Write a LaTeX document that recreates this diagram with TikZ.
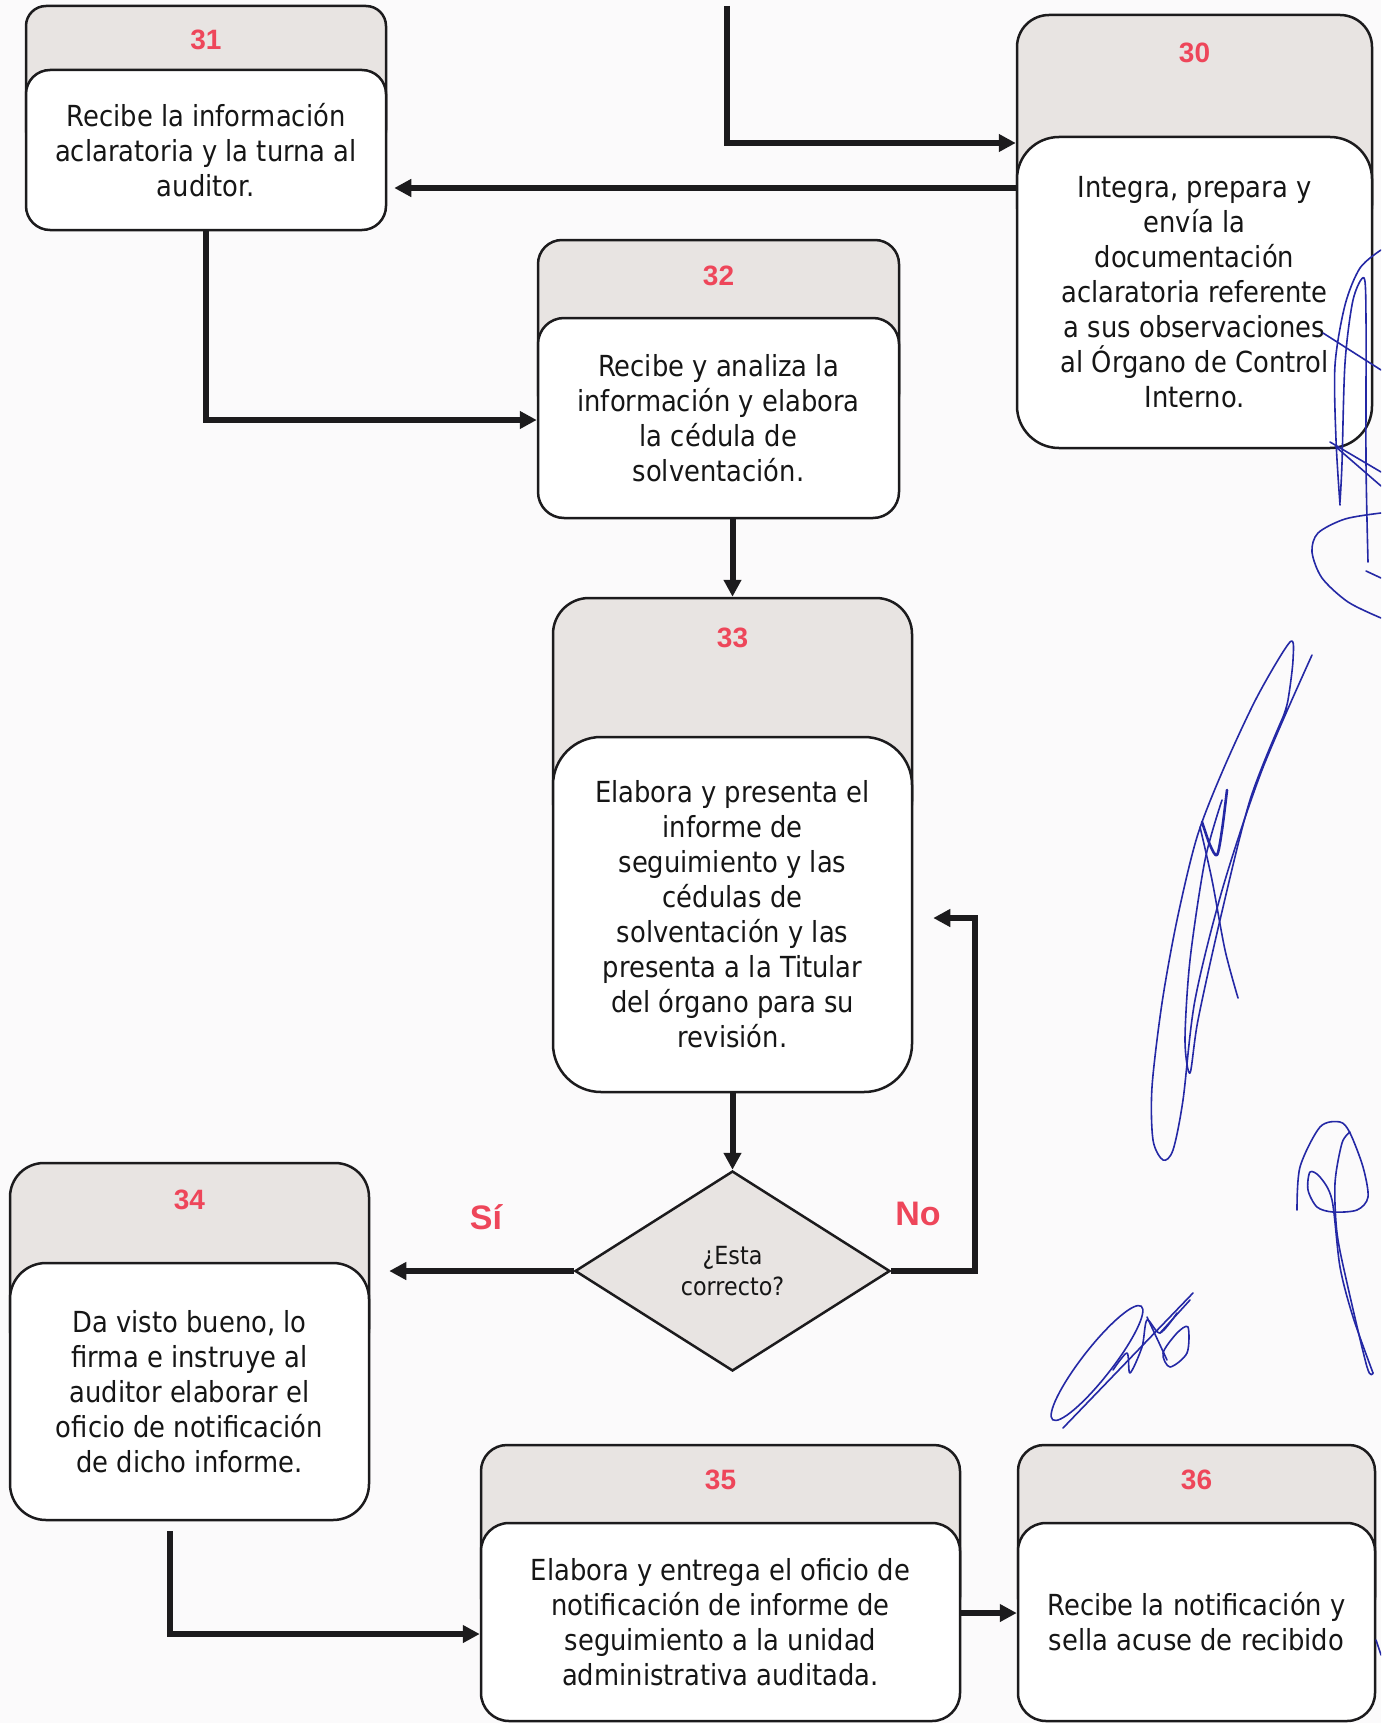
\documentclass[tikz,border=0pt]{standalone}
\usepackage{fontspec}
\setmainfont{DejaVu Sans}[FakeStretch=0.89]
\newfontfamily\numfont{Liberation Sans}
\usetikzlibrary{arrows.meta,shapes.geometric}
\definecolor{inkcol}{RGB}{28,27,29}
\definecolor{txtcol}{RGB}{22,22,22}
\definecolor{hdrgray}{RGB}{232,228,226}
\definecolor{numred}{RGB}{238,70,90}
\definecolor{pagecol}{RGB}{251,250,251}
\definecolor{penblue}{RGB}{36,40,165}
\begin{document}
\begin{tikzpicture}[x=1pt,y=-1pt,
  hdrbox/.style={draw=inkcol, line width=2.5pt, fill=hdrgray, inner sep=0pt},
  bodybox/.style={draw=inkcol, line width=2.5pt, fill=white, inner sep=4pt,
    align=center, text=txtcol, font=\fontsize{29}{35}\selectfont},
  stepnum/.style={text=numred, font=\numfont\bfseries\fontsize{28}{28}\selectfont},
  branchlbl/.style={text=numred, font=\numfont\bfseries\fontsize{34}{34}\selectfont},
  decision/.style={diamond, draw=inkcol, line width=2.5pt, fill=hdrgray, inner sep=0pt,
    align=center, text=txtcol, font=\fontsize{25}{31}\selectfont},
  conn/.style={draw=inkcol, line width=6pt, -{Triangle[length=17pt,width=17pt]}},
  pen/.style={draw=penblue, line width=1.6pt, line cap=round, line join=round},
]
\useasboundingbox (0,0) rectangle (1381,1723);
\clip (0,0) rectangle (1381,1723);
\fill[pagecol] (0,0) rectangle (1381,1723);

% Each step: a grey header card (h..) partly covered by a white body card (b..).

% ---- step 31
\node[hdrbox, rounded corners=20pt, minimum width=360pt, minimum height=144pt] (h31) at (206,78) {};
\node[bodybox, rounded corners=24pt, minimum width=360pt, minimum height=160pt] (b31) at (206,150)
  {Recibe la información\\aclaratoria y la turna al\\auditor.};
\node[stepnum] (n31) at (206,40) {31};

% ---- step 30
\node[hdrbox, rounded corners=32pt, minimum width=355pt, minimum height=222pt] (h30) at (1194.5,126) {};
\node[bodybox, rounded corners=42pt, minimum width=355pt, minimum height=311pt] (b30) at (1194.5,292.5)
  {Integra, prepara y\\envía la\\documentación\\aclaratoria referente\\a sus observaciones\\al Órgano de Control\\Interno.};
\node[stepnum] (n30) at (1194.5,53) {30};

% ---- step 32
\node[hdrbox, rounded corners=24pt, minimum width=361pt, minimum height=178pt] (h32) at (718.5,329) {};
\node[bodybox, rounded corners=26pt, minimum width=361pt, minimum height=200pt] (b32) at (718.5,418)
  {Recibe y analiza la\\información y elabora\\la cédula de\\solventación.};
\node[stepnum] (n32) at (718.5,276) {32};

% ---- step 33
\node[hdrbox, rounded corners=36pt, minimum width=359pt, minimum height=239pt] (h33) at (732.5,717.5) {};
\node[bodybox, rounded corners=48pt, minimum width=359pt, minimum height=355pt] (b33) at (732.5,914.5)
  {Elabora y presenta el\\informe de\\seguimiento y las\\cédulas de\\solventación y las\\presenta a la Titular\\del órgano para su\\revisión.};
\node[stepnum] (n33) at (732.5,638) {33};

% ---- decision
\node[decision, minimum width=315pt, minimum height=200pt] (dia) at (732.5,1271) {¿Esta\\correcto?};

% ---- step 34
\node[hdrbox, rounded corners=34pt, minimum width=359pt, minimum height=200pt] (h34) at (189.5,1263) {};
\node[bodybox, rounded corners=36pt, minimum width=359pt, minimum height=257pt] (b34) at (189.5,1391.5)
  {Da visto bueno, lo\\firma e instruye al\\auditor elaborar el\\oficio de notificación\\de dicho informe.};
\node[stepnum] (n34) at (189.5,1200) {34};

% ---- step 35
\node[hdrbox, rounded corners=26pt, minimum width=479pt, minimum height=178pt] (h35) at (720.5,1534) {};
\node[bodybox, rounded corners=28pt, minimum width=479pt, minimum height=198pt] (b35) at (720.5,1622)
  {Elabora y entrega el oficio de\\notificación de informe de\\seguimiento a la unidad\\administrativa auditada.};
\node[stepnum] (n35) at (720.5,1480) {35};

% ---- step 36
\node[hdrbox, rounded corners=26pt, minimum width=357pt, minimum height=178pt] (h36) at (1196.5,1534) {};
\node[bodybox, rounded corners=28pt, minimum width=357pt, minimum height=198pt] (b36) at (1196.5,1622)
  {Recibe la notificación y\\sella acuse de recibido};
\node[stepnum] (n36) at (1196.5,1480) {36};

% ---- branch labels
\node[branchlbl] (lsi) at (486,1217) {Sí};
\node[branchlbl] (lno) at (918,1214) {No};

% ---- connectors
\coordinate (c0) at (727,6);
\coordinate (c1) at (727,143);
\coordinate (y188) at (0,188);
\coordinate (y420) at (0,420);
\coordinate (nox) at (975,918);
\coordinate (x170) at (170,0);
\coordinate (y1634) at (0,1634);
\coordinate (y1613) at (0,1613);

\draw[conn] (c0) -- (c1) -- (c1 -| h30.west);
\draw[conn, shorten >=7pt] (b30.west |- y188) -- (b31.east |- y188);
\draw[conn] (b31.south) |- (b32.west |- y420);
\draw[conn] (h33.north |- b32.south) -- (h33.north);
\draw[conn] (b33.south) -- (dia.north);
\draw[conn, shorten >=19pt] (dia.west) -- (dia.west -| b34.east);
\draw[conn, shorten >=20pt] (dia.east) -| (nox) -- (nox -| b33.east);
\draw[conn, shorten <=10pt] (b34.south -| x170) |- (b35.west |- y1634);
\draw[conn] (b35.east |- y1613) -- (b36.west |- y1613);

% ---- handwritten initials in the right margin
% first initial
\draw[pen] plot[smooth] coordinates {(1340,505) (1336,440) (1335,365) (1345,305) (1360,268) (1381,250)};
\draw[pen] plot[smooth] coordinates {(1340,502) (1342,463) (1345,363) (1353,300) (1364,278) (1366,320) (1366,463) (1368,562)};
\draw[pen] (1323,333) -- (1381,370);
\draw[pen] (1330,442) -- (1381,472);
\draw[pen] (1336,447) -- (1381,486);
\draw[pen] plot[smooth] coordinates {(1381,513) (1345,519) (1318,533) (1312,552) (1322,578) (1348,602) (1381,618)};
\draw[pen] (1366,571) -- (1381,578);

% second initial
\draw[pen] plot[smooth] coordinates {(1312,655) (1262,770) (1223,887) (1195,1000) (1183,1100) (1173,1150) (1163,1160) (1153,1140) (1152,1087) (1162,1003) (1177,920) (1197,837) (1223,770) (1257,697) (1290,642) (1293,660) (1288,700) (1283,717)};
\draw[pen] plot[smooth] coordinates {(1283,717) (1250,800) (1220,920) (1198,1020) (1190,1073) (1185,1040) (1190,960) (1205,860) (1222,800)};
\draw[pen, line width=2.6pt] plot[smooth] coordinates {(1202,822) (1210,845) (1217,855) (1222,830) (1227,790)};
\draw[pen] plot[smooth] coordinates {(1200,827) (1212,880) (1225,950) (1238,998)};

% third initial
\draw[pen] plot[smooth] coordinates {(1297,1210) (1300,1167) (1320,1127) (1340,1122) (1350,1133) (1363,1167) (1368,1197) (1357,1210) (1333,1212) (1317,1207) (1308,1190) (1310,1172) (1320,1177) (1332,1200) (1340,1267) (1353,1317) (1373,1373)};
\draw[pen] plot[smooth] coordinates {(1373,1373) (1367,1367) (1347,1283) (1337,1233) (1335,1183) (1342,1143) (1350,1132)};

% fourth initial
\draw[pen, rotate around={52:(1097,1363)}] (1097,1363) ellipse [x radius=72pt, y radius=15pt];
\draw[pen] (1063,1428) -- (1193,1293);
\draw[pen] plot[smooth cycle] coordinates {(1170,1367) (1187,1353) (1188,1327) (1177,1333) (1163,1353)};
\draw[pen] plot[smooth] coordinates {(1113,1370) (1127,1353) (1130,1373) (1142,1347) (1147,1320) (1160,1333) (1177,1313)};
\draw[pen] (1147,1317) -- (1167,1360);
\draw[pen] (1160,1333) -- (1190,1300);
\draw[pen] (1376,1640) -- (1381,1655);
\end{tikzpicture}
\end{document}
